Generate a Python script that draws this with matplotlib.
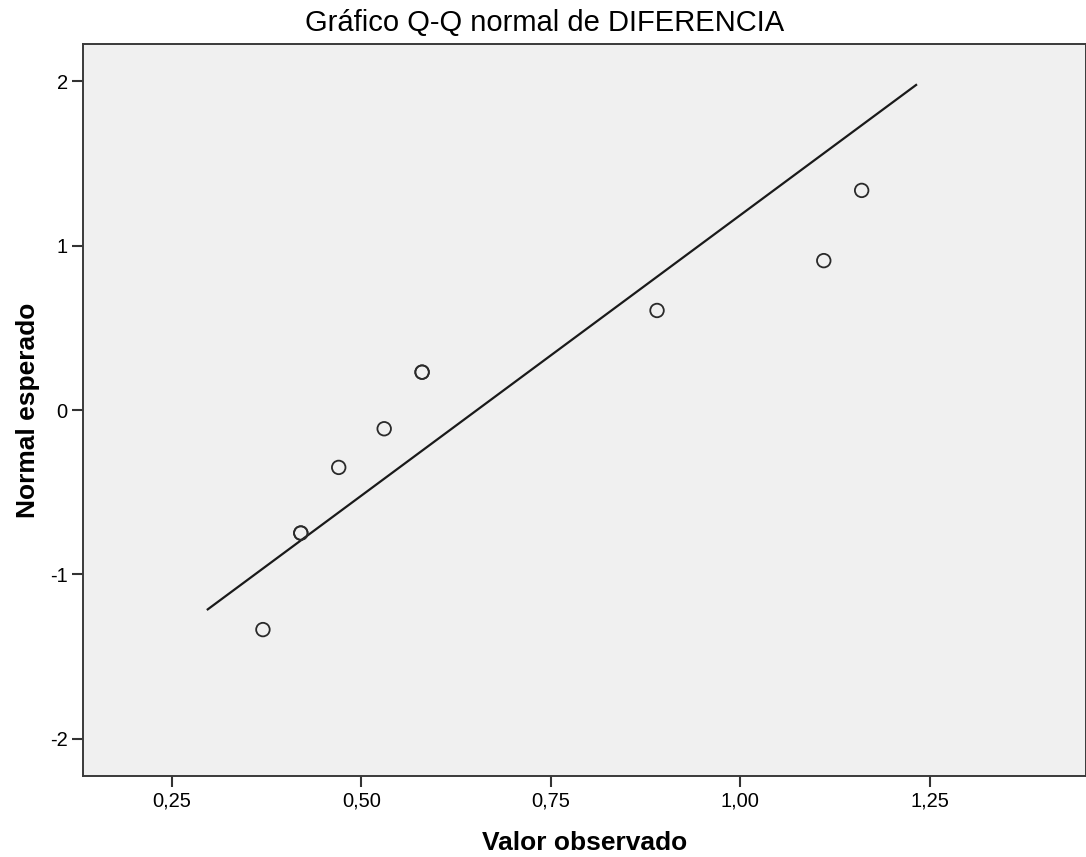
import numpy as np
import matplotlib
matplotlib.use('Agg')
import matplotlib.pyplot as plt
from matplotlib.ticker import FixedLocator, FuncFormatter

observado = [0.37, 0.42, 0.42, 0.47, 0.53, 0.58, 0.58, 0.89, 1.11, 1.16]
esperado = [-1.335, -0.748, -0.748, -0.349, -0.114, 0.230, 0.230, 0.605, 0.908, 1.335]

# Recta de referencia (extremos)
recta_x = [0.296, 1.233]
recta_y = [-1.216, 1.980]

xticks = [0.25, 0.50, 0.75, 1.00, 1.25]
yticks = [-2, -1, 0, 1, 2]

plt.rcParams['font.family'] = ['Liberation Sans', 'DejaVu Sans']

W, H = 1086, 857
fig = plt.figure(figsize=(W/100, H/100), dpi=100)
ax = fig.add_axes([83/W, (H-776)/H, (W-83)/W, (776-44)/H])
ax.set_facecolor('#f0f0f0')

ax.plot(recta_x, recta_y, color='#1a1a1a', lw=1.6, solid_capstyle='butt')
ax.scatter(observado, esperado, s=95, facecolors='none', edgecolors='#2a2a2a',
           linewidths=1.3, zorder=3)

ax.set_xlim(0.1326, 1.456)
ax.set_ylim(-2.225, 2.225)
ax.xaxis.set_major_locator(FixedLocator(xticks))
ax.yaxis.set_major_locator(FixedLocator(yticks))
ax.xaxis.set_major_formatter(FuncFormatter(lambda v, p: f'{v:.2f}'.replace('.', ',')))
ax.yaxis.set_major_formatter(FuncFormatter(lambda v, p: f'{v:.0f}'))
ax.tick_params(length=8, width=1.5, color='#333333', labelsize=14.5, pad=3)

for lado in ['top', 'right', 'bottom', 'left']:
    ax.spines[lado].set_color('#3a3a3a')
    ax.spines[lado].set_linewidth(1.4)

fig.text(545/W, 1 - 23/H, 'Gráfico Q-Q normal de DIFERENCIA', ha='center', va='center',
         fontsize=21)
ax.set_xlabel('Valor observado', fontsize=19, fontweight='bold', labelpad=15)
ax.set_ylabel('Normal esperado', fontsize=19, fontweight='bold', labelpad=7)

fig.savefig('out.png', dpi=100)
